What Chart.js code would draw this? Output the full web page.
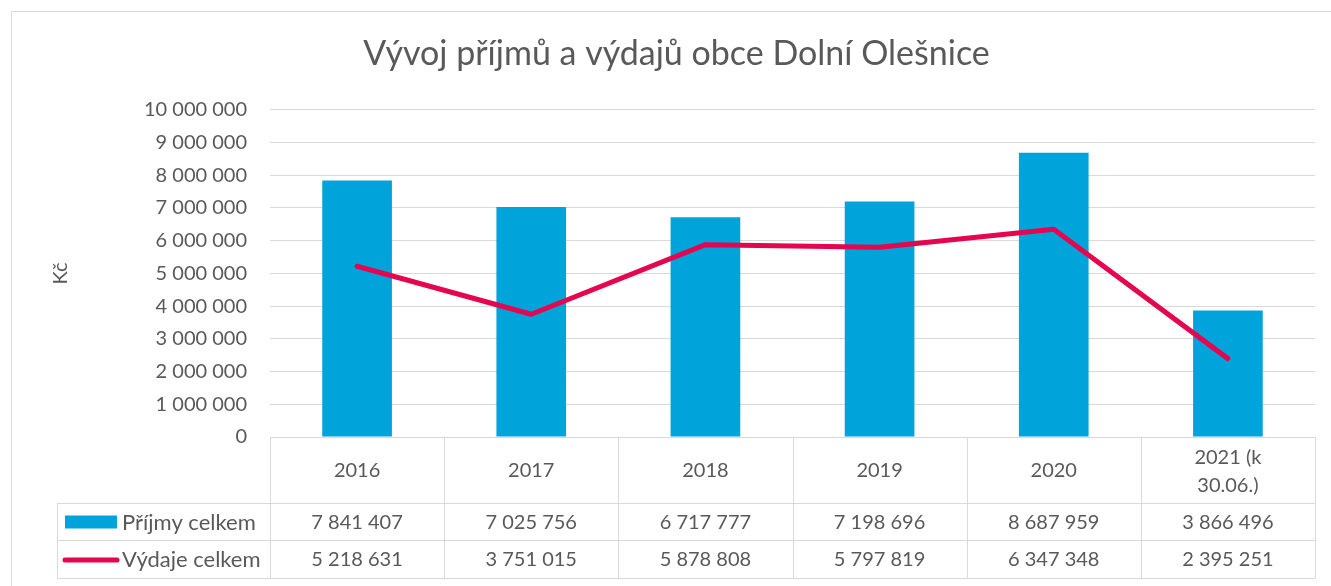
<!DOCTYPE html>
<html>
<head>
<meta charset="utf-8">
<script src="https://cdn.jsdelivr.net/npm/chart.js@4"></script>
<style>
  html, body { margin: 0; padding: 0; background: #fff; overflow: hidden; }
  #wrap { width: 1331px; height: 586px; }
</style>
</head>
<body>
<div id="wrap"><canvas id="chart" width="1331" height="586"></canvas></div>
<script>
// ========================
// DATA
// ========================
const years = ["2016", "2017", "2018", "2019", "2020", ["2021 (k", "30.06.)"]];
const prijmy = [7841407, 7025756, 6717777, 7198696, 8687959, 3866496];
const vydaje = [5218631, 3751015, 5878808, 5797819, 6347348, 2395251];
const yTicks = [0, 1000000, 2000000, 3000000, 4000000, 5000000, 6000000, 7000000, 8000000, 9000000, 10000000];

const TEXT = "#595959";
const GRID = "#d9d9d9";
const BLUE = "#00a3da";
const RED = "#e4064f";
const FONT = "Lato";

// 7841407 -> "7 841 407"
function fmt(v) {
  return String(v).replace(/\B(?=(\d{3})+(?!\d))/g, " ");
}

// ========================
// DATA TABLE UNDER THE AXIS
// ========================
const dataTable = {
  id: "dataTable",
  beforeDraw(chart) {
    const ctx = chart.ctx;
    ctx.save();
    ctx.fillStyle = "#fff";
    ctx.fillRect(0, 0, chart.width, chart.height);
    ctx.strokeStyle = GRID;
    ctx.lineWidth = 1;
    ctx.strokeRect(11.5, 11.5, chart.width + 20, chart.height + 20);
    ctx.restore();
  },
  afterDraw(chart) {
    const ctx = chart.ctx;
    const area = chart.chartArea;
    const x = chart.scales.x;
    const n = years.length;
    const top = area.bottom;
    const rows = [top, top + 66, top + 103, top + 141];
    const legendLeft = 57;

    // column edges from the category scale
    const edges = [area.left];
    for (let i = 0; i < n - 1; i++) edges.push(x.getPixelForValue(i + 0.5));
    edges.push(area.right);

    ctx.save();
    ctx.strokeStyle = GRID;
    ctx.lineWidth = 1;
    ctx.beginPath();
    ctx.moveTo(area.left, Math.round(rows[0]) + 0.5);
    ctx.lineTo(area.right, Math.round(rows[0]) + 0.5);
    for (let r = 1; r < rows.length; r++) {
      ctx.moveTo(legendLeft, Math.round(rows[r]) + 0.5);
      ctx.lineTo(area.right, Math.round(rows[r]) + 0.5);
    }
    edges.forEach(e => {
      ctx.moveTo(Math.round(e) + 0.5, rows[0]);
      ctx.lineTo(Math.round(e) + 0.5, rows[3]);
    });
    ctx.moveTo(legendLeft + 0.5, rows[1]);
    ctx.lineTo(legendLeft + 0.5, rows[3]);
    ctx.stroke();

    ctx.fillStyle = TEXT;
    ctx.font = "20px " + FONT;
    ctx.textAlign = "center";
    ctx.textBaseline = "middle";

    // header row
    years.forEach((lab, i) => {
      const cx = x.getPixelForValue(i);
      const mid = (rows[0] + rows[1]) / 2 + 1;
      if (Array.isArray(lab)) {
        ctx.fillText(lab[0], cx, mid - 13);
        ctx.fillText(lab[1], cx, mid + 15);
      } else {
        ctx.fillText(lab, cx, mid);
      }
    });

    // value rows
    const series = [prijmy, vydaje];
    series.forEach((vals, r) => {
      const mid = (rows[r + 1] + rows[r + 2]) / 2 + 1;
      vals.forEach((v, i) => ctx.fillText(fmt(v), x.getPixelForValue(i), mid));
    });

    // legend keys + names
    const ds = chart.data.datasets;
    let mid = (rows[1] + rows[2]) / 2;
    ctx.fillStyle = BLUE;
    ctx.fillRect(65, mid - 6, 52, 13);
    mid = (rows[2] + rows[3]) / 2;
    ctx.strokeStyle = RED;
    ctx.lineWidth = 5;
    ctx.lineCap = "round";
    ctx.beginPath();
    ctx.moveTo(65, mid + 1);
    ctx.lineTo(117, mid + 1);
    ctx.stroke();

    ctx.fillStyle = TEXT;
    ctx.textAlign = "left";
    ctx.font = "22px " + FONT;
    ctx.fillText(ds[1].label, 122, (rows[1] + rows[2]) / 2 + 1);
    ctx.fillText(ds[0].label, 122, (rows[2] + rows[3]) / 2 + 1);
    ctx.restore();
  }
};

// ========================
// CHART
// ========================
new Chart(document.getElementById("chart"), {
  data: {
    labels: years,
    datasets: [
      {
        type: "line",
        label: "Výdaje celkem",
        data: vydaje,
        borderColor: RED,
        borderWidth: 5,
        pointRadius: 0,
        tension: 0,
        borderJoinStyle: "round",
        borderCapStyle: "round",
        order: 1
      },
      {
        type: "bar",
        label: "Příjmy celkem",
        data: prijmy,
        backgroundColor: BLUE,
        barPercentage: 0.4,
        categoryPercentage: 1,
        order: 2
      }
    ]
  },
  options: {
    responsive: false,
    animation: false,
    layout: { padding: { top: 0, left: 38, right: 16, bottom: 149 } },
    plugins: {
      legend: { display: false },
      tooltip: { enabled: false },
      title: {
        display: true,
        text: "Vývoj příjmů a výdajů obce Dolní Olešnice",
        color: TEXT,
        font: { family: FONT, size: 34, weight: "normal" },
        padding: { top: 34, bottom: 35 }
      }
    },
    scales: {
      x: {
        grid: { display: false },
        border: { display: false },
        ticks: { display: false },
        afterFit: s => { s.height = 0; }
      },
      y: {
        min: 0,
        max: 10000000,
        afterBuildTicks: s => { s.ticks = yTicks.map(v => ({ value: v })); },
        afterFit: s => { s.width = 232; },
        grid: { color: GRID, lineWidth: 1, drawTicks: false },
        border: { display: false },
        ticks: {
          color: TEXT,
          padding: 23,
          font: { family: FONT, size: 20 },
          callback: v => fmt(v)
        },
        title: {
          display: true,
          text: "Kč",
          color: TEXT,
          font: { family: FONT, size: 20 },
          padding: { top: 11, bottom: 0 }
        }
      }
    }
  },
  plugins: [dataTable]
});
</script>
</body>
</html>
